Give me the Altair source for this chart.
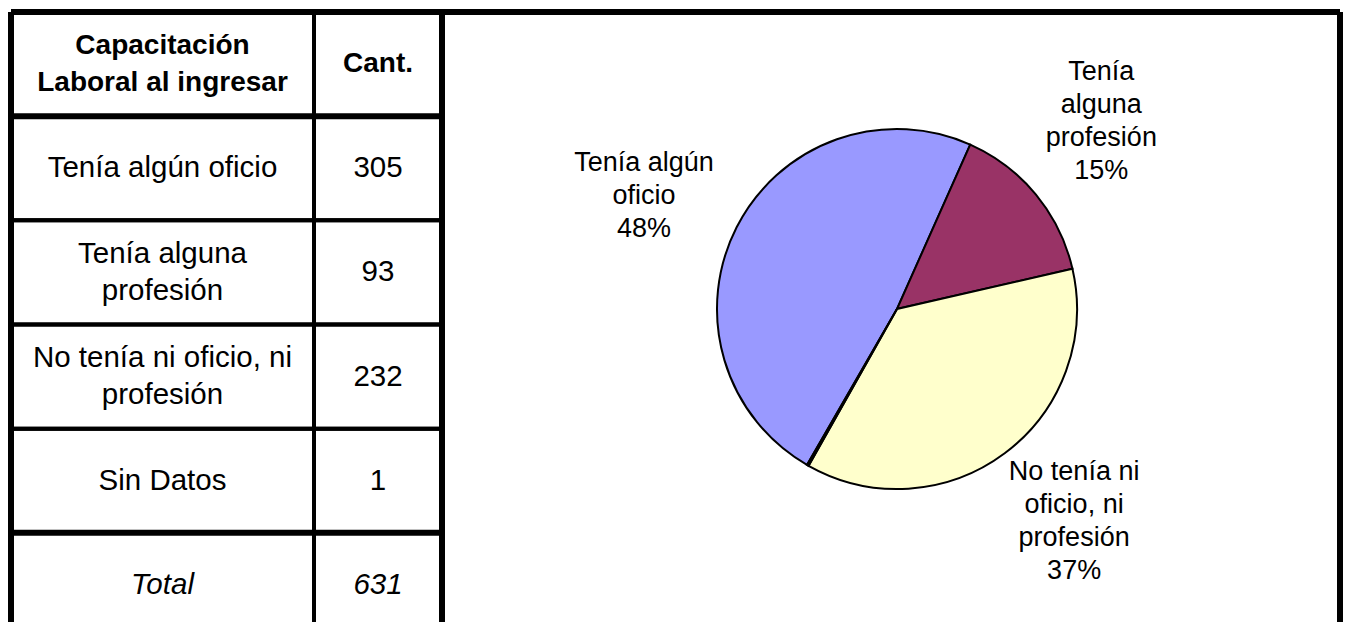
import math
import altair as alt
import pandas as pd

# ---- Table data ----
table_labels = [
    "Capacitación\nLaboral al ingresar",
    "Tenía algún oficio",
    "Tenía alguna\nprofesión",
    "No tenía ni oficio, ni\nprofesión",
    "Sin Datos",
    "Total",
]
table_counts = ["Cant.", "305", "93", "232", "1", "631"]
row_kind = ["header", "body", "body", "body", "body", "total"]

# ---- Pie data ----
pie_categories = [
    "Tenía algún oficio",
    "Tenía alguna profesión",
    "No tenía ni oficio, ni profesión",
    "Sin Datos",
]
pie_values = [305, 93, 232, 1]
pie_labels = [
    "Tenía algún\noficio\n48%",
    "Tenía\nalguna\nprofesión\n15%",
    "No tenía ni\noficio, ni\nprofesión\n37%",
    "",
]
pie_colors = ["#9999FF", "#993366", "#FFFFCC", "#CCFFFF"]

FONT = "Liberation Sans, Arial, Helvetica, sans-serif"
VIEW_H = 610          # visible panel height (page must not scroll)
TABLE_RANGE = 625     # full table height (bottom row runs past the window)
T_LH = 37             # table line height
P_LH = 33             # pie label line height

tdf = pd.DataFrame({
    "row": list(range(len(table_labels))),
    "label": table_labels,
    "count": table_counts,
    "kind": row_kind,
})

yscale = alt.Scale(paddingInner=0, paddingOuter=0, range=[0, TABLE_RANGE])
NL = "length(split(datum.{f}, '\\n'))"


def column(field, width, left_border=False):
    base = alt.Chart(tdf).transform_calculate(nl=NL.format(f=field))
    yenc = alt.Y("row:O", axis=None, scale=yscale)
    yedge = alt.Y("row:O", axis=None, scale=yscale, bandPosition=0)
    layers = [
        base.mark_rect(fillOpacity=0, stroke="black", strokeWidth=4, clip=True).encode(y=yenc),
        base.mark_rule(color="black", strokeWidth=6).encode(y=yedge).transform_filter(
            "datum.row == 0 || datum.row == 1 || datum.row == 5"),
    ]
    if left_border:
        layers.append(alt.Chart(tdf).mark_rule(color="black", strokeWidth=6)
                      .encode(x=alt.value(0)).transform_filter("datum.row == 0"))
    styles = {
        "header": dict(fontSize=28, fontWeight="bold"),
        "body": dict(fontSize=29.5),
        "total": dict(fontSize=29.5, fontStyle="italic"),
    }
    for kind, st in styles.items():
        for n in (1, 2):
            layers.append(
                base.mark_text(font=FONT, lineHeight=T_LH, lineBreak="\n", baseline="middle",
                               color="black", dy=-(n - 1) * T_LH / 2, **st)
                .encode(y=yenc, text=f"{field}:N")
                .transform_filter(f"datum.kind == '{kind}' && datum.nl == {n}")
            )
    return alt.layer(*layers).properties(width=width, height=VIEW_H)


col1 = column("label", 303, left_border=True)
col2 = column("count", 128)

# ---- Pie ----
PIE_W = 898
pdf = pd.DataFrame({
    "cat": pie_categories,
    "value": pie_values,
    "label": pie_labels,
    "idx": list(range(len(pie_categories))),
})

start = math.radians(210)
label_start = math.radians(207)
arcs = alt.Chart(pdf).mark_arc(outerRadius=180, stroke="black", strokeWidth=2).encode(
    theta=alt.Theta("value:Q", stack=True, scale=alt.Scale(range=[start, start + 2 * math.pi])),
    order=alt.Order("idx:Q"),
    color=alt.Color("cat:N", scale=alt.Scale(domain=pie_categories, range=pie_colors), legend=None),
    x=alt.value(455),
    y=alt.value(297),
)

lbase = (
    alt.Chart(pdf)
    .transform_joinaggregate(total="sum(value)")
    .transform_window(cum="sum(value)", sort=[alt.SortField("idx")], frame=[None, 0])
    .transform_calculate(mid="(datum.cum - datum.value / 2) / datum.total",
                         nl=NL.format(f="label"))
)
label_layers = []
for n in (3, 4):
    label_layers.append(
        lbase.mark_text(radius=277, font=FONT, fontSize=27, lineHeight=P_LH, lineBreak="\n",
                        baseline="middle", align="center", color="black",
                        dy=-(n - 1) * P_LH / 2)
        .encode(
            theta=alt.Theta("mid:Q", stack=None,
                            scale=alt.Scale(domain=[0, 1],
                                            range=[label_start, label_start + 2 * math.pi])),
            text="label:N",
            x=alt.value(455),
            y=alt.value(297),
        )
        .transform_filter(f"datum.nl == {n}")
    )
labels = alt.layer(*label_layers)

# frame of the chart area (top, left, right)
frame_src = alt.Chart(pdf).transform_filter("datum.idx == 0")
frame = alt.layer(
    frame_src.mark_rule(color="black", strokeWidth=6).encode(y=alt.value(0)),
    frame_src.mark_rule(color="black", strokeWidth=6).encode(x=alt.value(0)),
    frame_src.mark_rule(color="black", strokeWidth=6).encode(x=alt.value(PIE_W)),
)

pie = alt.layer(arcs, labels, frame).resolve_scale(theta="independent").properties(
    width=PIE_W, height=VIEW_H)

chart = (
    alt.hconcat(col1, col2, pie, spacing=0, bounds="flush")
    .properties(padding={"left": 0, "top": 1, "right": 0, "bottom": 0})
    .configure(background="white")
    .configure_view(stroke=None)
)

chart.save("out.html", embed_options={"renderer": "svg", "actions": False})
